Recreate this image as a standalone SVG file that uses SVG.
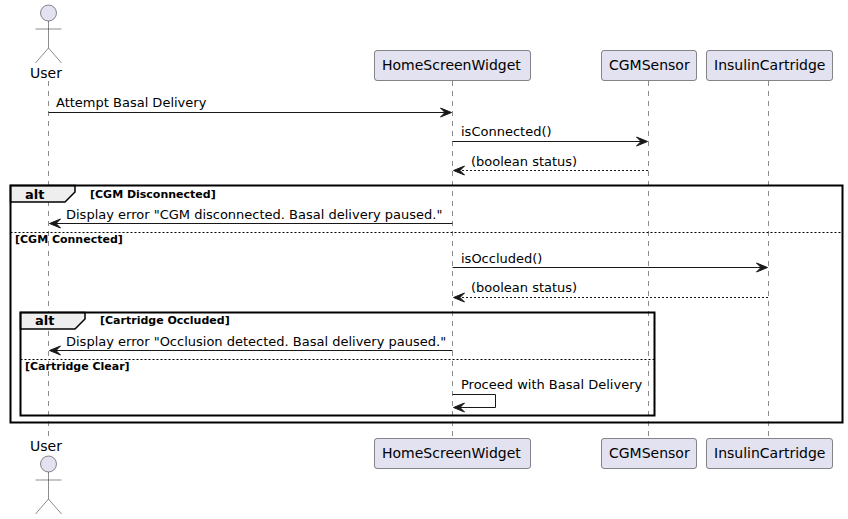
<svg xmlns="http://www.w3.org/2000/svg" width="848" height="519" viewBox="0 0 848 519">
<style>
text{font-family:"DejaVu Sans",sans-serif;fill:#000}
.life{stroke:#181818;stroke-width:.5;stroke-dasharray:5,5;fill:none}
.box{fill:#E2E2F0;stroke:#181818;stroke-width:.5}
.stick{fill:none;stroke:#181818;stroke-width:.5}
.pn{font-size:14px}
.msg{font-size:13px}
.frame{fill:none;stroke:#000;stroke-width:2}
.tab{fill:#EEEEEE;stroke:#000;stroke-width:1.5}
.alt{font-size:13px;font-weight:bold}
.guard{font-size:11px;font-weight:bold}
.sep{stroke:#000;stroke-width:1;stroke-dasharray:2,2;fill:none}
.ln{stroke:#181818;stroke-width:1;fill:none}
.dash{stroke-dasharray:2,2}
.head{fill:#181818;stroke:#181818;stroke-width:1}
</style>
<g id="lifelines">
<line class="life" x1="48.5" y1="81" x2="48.5" y2="437"/>
<line class="life" x1="452.5" y1="81" x2="452.5" y2="437"/>
<line class="life" x1="648.5" y1="81" x2="648.5" y2="437"/>
<line class="life" x1="768.5" y1="81" x2="768.5" y2="437"/>
</g>
<g id="frames">
<path class="tab" d="M10.5 185.5H75V192L65 202H10.5Z"/>
<rect class="frame" x="10.5" y="185.5" width="832" height="237"/>
<text class="alt" x="25" y="199">alt</text>
<text class="guard" x="90" y="198">[CGM Disconnected]</text>
<line class="sep" x1="10.5" y1="232.5" x2="842.5" y2="232.5"/>
<text class="guard" x="15" y="243">[CGM Connected]</text>
<path class="tab" d="M20.5 312.5H85V319L75 329H20.5Z"/>
<rect class="frame" x="20.5" y="312.5" width="634" height="103"/>
<text class="alt" x="35" y="325">alt</text>
<text class="guard" x="100" y="324">[Cartridge Occluded]</text>
<line class="sep" x1="20.5" y1="359.5" x2="654.5" y2="359.5"/>
<text class="guard" x="25" y="370">[Cartridge Clear]</text>
</g>
<g id="connectors">
<line class="ln" x1="48.5" y1="112.5" x2="447" y2="112.5"/>
<path class="head" d="M440.5 108L451.5 112.5L440.5 117L445 112.5Z"/>
<text class="msg" x="56" y="107">Attempt Basal Delivery</text>
<line class="ln" x1="452.5" y1="141.5" x2="643" y2="141.5"/>
<path class="head" d="M636.5 137L647.5 141.5L636.5 146L641 141.5Z"/>
<text class="msg" x="461" y="136">isConnected()</text>
<line class="ln dash" x1="458" y1="170.5" x2="648.5" y2="170.5"/>
<path class="head" d="M464.5 166L453.5 170.5L464.5 175L460 170.5Z"/>
<text class="msg" x="471" y="166">(boolean status)</text>
<line class="ln" x1="54" y1="223.5" x2="452.5" y2="223.5"/>
<path class="head" d="M60.5 219L49.5 223.5L60.5 228L56 223.5Z"/>
<text class="msg" x="66" y="219">Display error "CGM disconnected. Basal delivery paused."</text>
<line class="ln" x1="452.5" y1="267.5" x2="763" y2="267.5"/>
<path class="head" d="M756.5 263L767.5 267.5L756.5 272L761 267.5Z"/>
<text class="msg" x="461" y="263">isOccluded()</text>
<line class="ln dash" x1="458" y1="297.5" x2="768.5" y2="297.5"/>
<path class="head" d="M464.5 293L453.5 297.5L464.5 302L460 297.5Z"/>
<text class="msg" x="471" y="292">(boolean status)</text>
<line class="ln" x1="54" y1="350.5" x2="452.5" y2="350.5"/>
<path class="head" d="M60.5 346L49.5 350.5L60.5 355L56 350.5Z"/>
<text class="msg" x="66" y="346">Display error "Occlusion detected. Basal delivery paused."</text>
<path class="ln" d="M452.5 394.5H495.5V407.5H458"/>
<path class="head" d="M464.5 403L453.5 407.5L464.5 412L460 407.5Z"/>
<text class="msg" x="461" y="389">Proceed with Basal Delivery</text>
</g>
<g id="user-top">
<circle class="box" cx="48.5" cy="13" r="8"/>
<path class="stick" d="M48.5 21V48M35.5 29H61.5M48.5 48L35.5 63M48.5 48L61.5 63"/>
<text class="pn" x="30" y="78">User</text>
</g>
<g id="homescreenwidget-top">
<rect class="box" x="374.5" y="50.5" width="156" height="30" rx="2.5"/>
<text class="pn" x="382" y="70">HomeScreenWidget</text>
</g>
<g id="cgmsensor-top">
<rect class="box" x="601.5" y="50.5" width="95" height="30" rx="2.5"/>
<text class="pn" x="609" y="70">CGMSensor</text>
</g>
<g id="insulincartridge-top">
<rect class="box" x="706.5" y="50.5" width="126" height="30" rx="2.5"/>
<text class="pn" x="714" y="70">InsulinCartridge</text>
</g>
<g id="user-bottom">
<text class="pn" x="30" y="451">User</text>
<circle class="box" cx="48.5" cy="464" r="8"/>
<path class="stick" d="M48.5 472V499M35.5 480H61.5M48.5 499L35.5 514M48.5 499L61.5 514"/>
</g>
<g id="homescreenwidget-bottom">
<rect class="box" x="374.5" y="438.5" width="156" height="30" rx="2.5"/>
<text class="pn" x="382" y="458">HomeScreenWidget</text>
</g>
<g id="cgmsensor-bottom">
<rect class="box" x="601.5" y="438.5" width="95" height="30" rx="2.5"/>
<text class="pn" x="609" y="458">CGMSensor</text>
</g>
<g id="insulincartridge-bottom">
<rect class="box" x="706.5" y="438.5" width="126" height="30" rx="2.5"/>
<text class="pn" x="714" y="458">InsulinCartridge</text>
</g>
</svg>
